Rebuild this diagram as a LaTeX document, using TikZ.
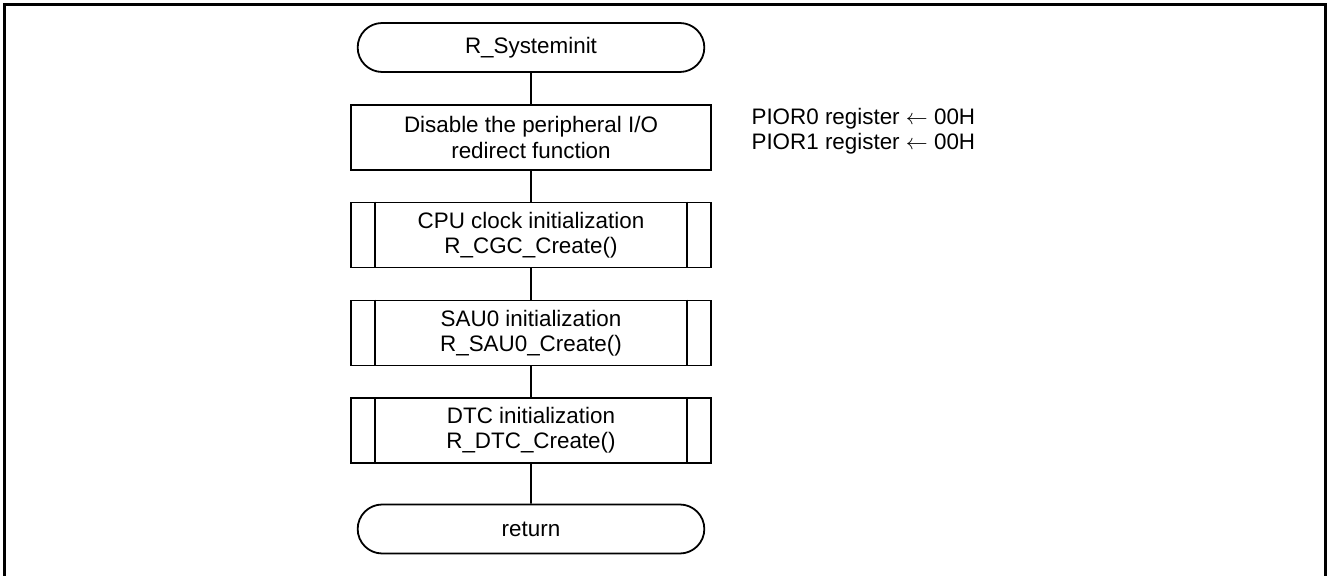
\documentclass[tikz,border=0pt]{standalone}
\usepackage{fontspec}
\setmainfont{Liberation Sans}
\usetikzlibrary{shapes.misc}

\begin{document}
\begin{tikzpicture}[x=0.5pt,y=-0.5pt,line width=0.9pt,
  font=\fontsize{11.2}{12.6}\selectfont,
  term/.style={draw,rounded rectangle,minimum width=180pt,minimum height=24.5pt},
  proc/.style={draw,rectangle,minimum width=180pt,minimum height=32.5pt,align=center},
  subr/.style={proc}]
\useasboundingbox (0,0) rectangle (1328,576);
\draw[line width=1.5pt] (4.5,576) -- (4.5,4.5) -- (1325.5,4.5) -- (1325.5,576);

\node[term] (start) at (531,47.5) {R\_Systeminit};
\node[proc] (pior) at (531,137.5) {Disable the peripheral I/O\\redirect function};
\node[subr] (cgc) at (531,235) {CPU clock initialization\\R\_CGC\_Create()};
\node[subr] (sau) at (531,333) {SAU0 initialization\\R\_SAU0\_Create()};
\node[subr] (dtc) at (531,430.5) {DTC initialization\\R\_DTC\_Create()};
\node[term] (ret) at (531,529) {return};

\node[anchor=west,align=left] (piornote) at (744,131)
  {PIOR0 register $\leftarrow$ 00H\\PIOR1 register $\leftarrow$ 00H};

% side bars of the subroutine boxes
\foreach \n in {cgc,sau,dtc} {
  \draw ([xshift=12.35pt]\n.north west) -- ([xshift=12.35pt]\n.south west);
  \draw ([xshift=-12.35pt]\n.north east) -- ([xshift=-12.35pt]\n.south east);
}

\draw (start) -- (pior);
\draw (pior) -- (cgc);
\draw (cgc) -- (sau);
\draw (sau) -- (dtc);
\draw (dtc) -- (ret);
\end{tikzpicture}
\end{document}
